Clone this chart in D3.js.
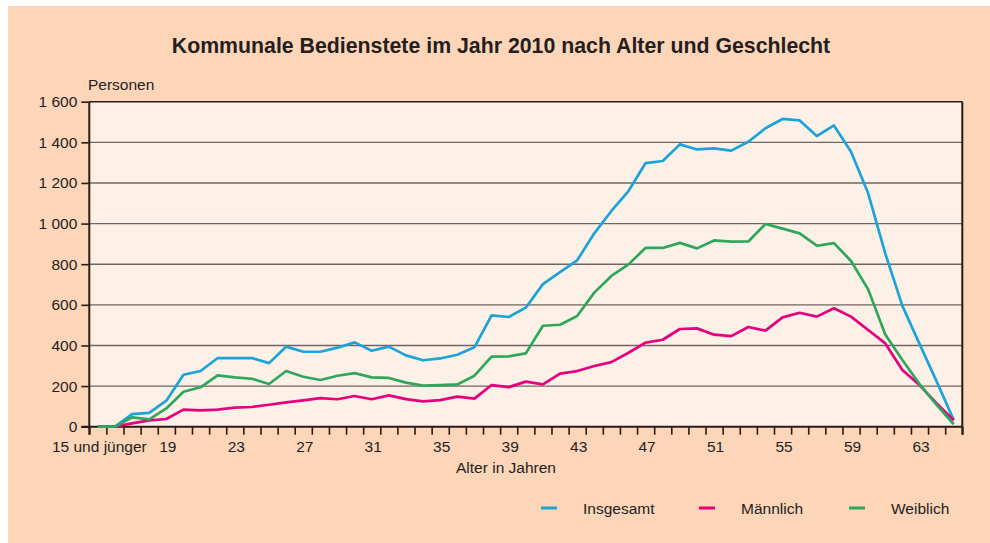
<!DOCTYPE html>
<html>
<head>
<meta charset="utf-8">
<script src="https://cdn.jsdelivr.net/npm/d3@7"></script>
<style>
html,body{margin:0;padding:0;background:#ffffff;}
svg{display:block;font-family:"Liberation Sans",Arial,sans-serif;}
</style>
</head>
<body>
<svg id="chart" width="990" height="543"></svg>
<script>
const categories = ["15 und jünger"].concat(d3.range(16, 66).map(String));
const tickLabels = ["15 und jünger","19","23","27","31","35","39","43","47","51","55","59","63"];
const yTicks = [0,200,400,600,800,1000,1200,1400,1600];

const insgesamt = [0,0,62,68,128,256,274,338,338,338,313,394,369,369,389,415,374,394,351,327,336,354,391,548,540,586,702,761,819,952,1062,1160,1298,1308,1390,1365,1370,1359,1403,1469,1515,1508,1431,1483,1354,1149,853,595,408,223,33];
const maennlich = [0,0,16,31,38,84,80,84,94,97,108,120,130,141,135,151,135,154,136,125,131,148,138,205,195,222,208,261,274,299,318,364,414,428,481,484,453,446,491,473,538,561,542,583,542,476,410,279,205,115,32];
const weiblich = [0,0,46,36,90,172,194,253,243,236,210,274,246,230,251,264,243,240,217,202,205,208,251,345,346,361,497,502,545,660,742,799,881,880,905,878,917,911,912,998,975,952,891,904,816,676,454,328,210,107,12];

const seriesNames = ["Insgesamt","Männlich","Weiblich"];
const seriesColors = ["#1ba3da","#e6007e","#2ea75c"];
const seriesData = [insgesamt, maennlich, weiblich];

const svg = d3.select("#chart");
const L = 89.3, R = 962.3, T = 101.7, B = 426.7;
const textColor = "#231f20";

// panel background
svg.append("rect").attr("x",8).attr("y",6).attr("width",982).attr("height",537).attr("fill","#fdd5b8");
svg.append("rect").attr("x",L).attr("y",T).attr("width",R-L).attr("height",B-T).attr("fill","#fdf1e7");

const x = d3.scaleBand().domain(categories).range([L,R]).padding(0);
const xEdge = d3.scaleLinear().domain([0,categories.length]).range([L,R]);
const y = d3.scaleLinear().domain([0,1600]).range([B,T]);

// title
svg.append("text").attr("x",501).attr("y",53).attr("text-anchor","middle")
  .attr("font-size",21.3).attr("font-weight","bold").attr("fill",textColor)
  .text("Kommunale Bedienstete im Jahr 2010 nach Alter und Geschlecht");

svg.append("text").attr("x",88).attr("y",90).attr("font-size",15.5).attr("fill",textColor).text("Personen");

// gridlines
svg.append("g").selectAll("line").data(yTicks.filter(v => v>0 && v<1600)).join("line")
  .attr("x1",L).attr("x2",R).attr("y1",d=>y(d)).attr("y2",d=>y(d))
  .attr("stroke","#6f6562").attr("stroke-width",1.4);

// y axis
const fmt = d => d3.format(",")(d).replace(/,/g," ");
const yAxis = svg.append("g").attr("transform",`translate(${L},0)`)
  .call(d3.axisLeft(y).tickValues(yTicks).tickFormat(fmt).tickSize(8).tickPadding(4));
yAxis.select(".domain").remove();
yAxis.selectAll("line").attr("stroke","#2a1c14").attr("stroke-width",1.6);
yAxis.selectAll("text").attr("font-size",15.5).attr("fill",textColor).attr("font-family","Liberation Sans, Arial, sans-serif");

// x ticks at band edges
const xTickAxis = svg.append("g").attr("transform",`translate(0,${B})`)
  .call(d3.axisBottom(xEdge).tickValues(d3.range(0,categories.length+1)).tickFormat("").tickSize(8));
xTickAxis.select(".domain").remove();
xTickAxis.selectAll("line").attr("stroke","#2a1c14").attr("stroke-width",1.6);

// x labels at band centres
const xLab = svg.append("g").attr("transform",`translate(1.5,${B})`)
  .call(d3.axisBottom(x).tickValues(tickLabels).tickSize(0).tickPadding(14));
xLab.select(".domain").remove();
xLab.selectAll("text").attr("font-size",15.5).attr("fill",textColor).attr("font-family","Liberation Sans, Arial, sans-serif");

svg.append("text").attr("x",506).attr("y",473).attr("text-anchor","middle")
  .attr("font-size",15.5).attr("fill",textColor).text("Alter in Jahren");

// frame
svg.append("line").attr("x1",L).attr("x2",R).attr("y1",T).attr("y2",T).attr("stroke","#2a1c14").attr("stroke-width",1.6);
svg.append("line").attr("x1",R).attr("x2",R).attr("y1",T).attr("y2",B+8).attr("stroke","#2a1c14").attr("stroke-width",2);
svg.append("line").attr("x1",L).attr("x2",L).attr("y1",T).attr("y2",B+8).attr("stroke","#2a1c14").attr("stroke-width",2);
svg.append("line").attr("x1",L-8).attr("x2",R).attr("y1",B).attr("y2",B).attr("stroke","#2a1c14").attr("stroke-width",2);

// lines
const line = d3.line().x((d,i)=>x(categories[i])+x.bandwidth()/2).y(d=>y(d));
seriesData.forEach((s,k)=>{
  svg.append("path").datum(s).attr("d",line).attr("fill","none")
    .attr("stroke",seriesColors[k]).attr("stroke-width",2.7).attr("stroke-linejoin","round");
});

// legend
const legendX = [541,699,849];
const legendTextX = [583,741,891];
seriesNames.forEach((n,k)=>{
  svg.append("line").attr("x1",legendX[k]).attr("x2",legendX[k]+16).attr("y1",508).attr("y2",508)
    .attr("stroke",seriesColors[k]).attr("stroke-width",3);
  svg.append("text").attr("x",legendTextX[k]).attr("y",514).attr("font-size",15.5).attr("fill",textColor).text(n);
});
</script>
</body>
</html>
